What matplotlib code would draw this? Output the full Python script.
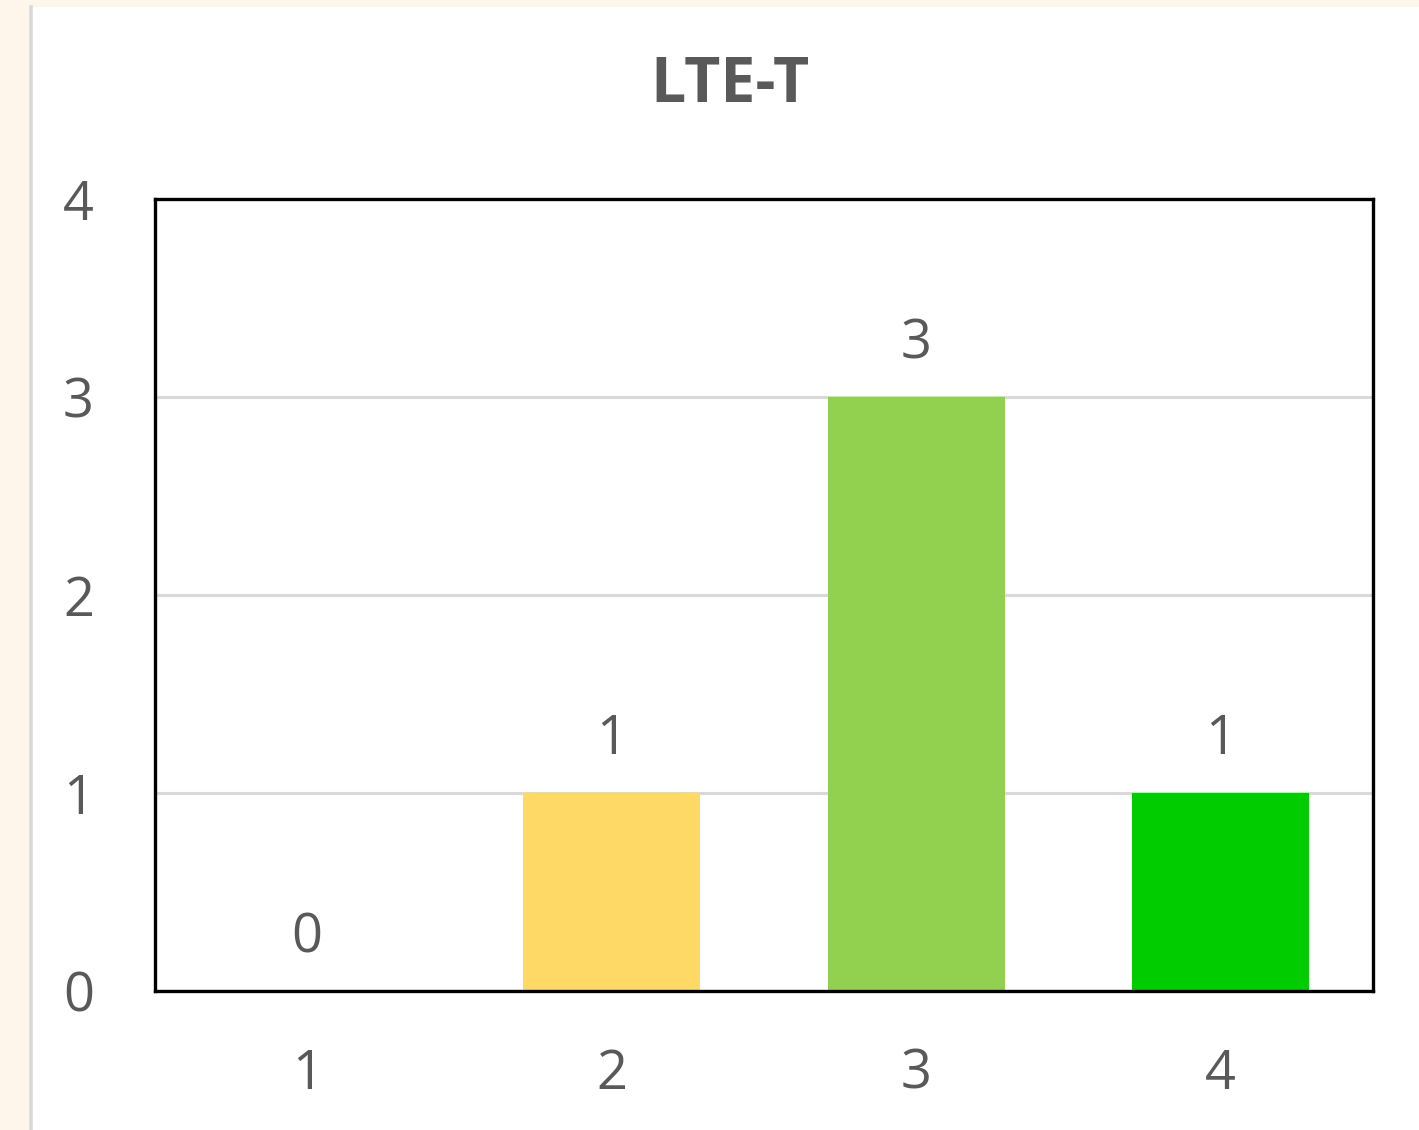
import matplotlib
matplotlib.use("Agg")
import matplotlib.pyplot as plt
from matplotlib.patches import Rectangle
from matplotlib.lines import Line2D
import numpy as np

# ── Data ───────────────────────────────────────────────────────────────────────

categories = ["1", "2", "3", "4"]
counts     = [0, 1, 3, 1]
bar_colors = ["#5B9BD5", "#FFD966", "#92D050", "#00CC00"]
y_ticks    = [0, 1, 2, 3, 4]

TITLE   = "LTE-T"
TEXT    = "#595959"
GRID    = "#d9d9d9"
CREAM   = "#fef6ea"
FONT    = ["Open Sans", "DejaVu Sans"]

# ── Figure ─────────────────────────────────────────────────────────────────────

fig = plt.figure(figsize=(14.19, 11.30), dpi=100)
fig.patch.set_facecolor("white")

# cream page margin + gray border like a pasted spreadsheet chart
fig.add_artist(Rectangle((0, 0), 29 / 1419, 1, transform=fig.transFigure,
                         facecolor=CREAM, edgecolor="none", zorder=0))
fig.add_artist(Rectangle((0, 1 - 7 / 1130), 1, 7 / 1130, transform=fig.transFigure,
                         facecolor=CREAM, edgecolor="none", zorder=0))
fig.add_artist(Line2D([30.5 / 1419, 30.5 / 1419], [0, 1 - 7 / 1130],
                      transform=fig.transFigure, color=GRID, linewidth=2.6))

ax = fig.add_axes([155 / 1419, 1 - 991 / 1130, (1373 - 155) / 1419, (991 - 199) / 1130])
ax.set_facecolor("white")

x = np.arange(len(categories))
bars = ax.bar(x, counts, width=0.58, color=bar_colors, zorder=2)

for bar, val in zip(bars, counts):
    ax.text(bar.get_x() + bar.get_width() / 2, val + 0.13, str(val),
            ha="center", va="bottom", fontsize=39, color=TEXT, family=FONT)

ax.set_xlim(-0.5, len(categories) - 0.5)
ax.set_ylim(0, 4)
ax.set_xticks(x)
ax.set_xticklabels(categories)
ax.set_yticks(y_ticks)

ax.tick_params(axis="both", length=0, labelsize=39, labelcolor=TEXT)
ax.tick_params(axis="x", pad=40)
ax.tick_params(axis="y", pad=44)
for lbl in ax.get_xticklabels() + ax.get_yticklabels():
    lbl.set_family(FONT)

ax.yaxis.grid(True, color=GRID, linewidth=2.2, zorder=1)
ax.set_axisbelow(True)

for spine in ax.spines.values():
    spine.set_color("black")
    spine.set_linewidth(2.4)

fig.text(730 / 1419, 1 - 86 / 1130, TITLE, ha="center", va="center",
         fontsize=45, fontweight="bold", color=TEXT, family=FONT)

fig.savefig("out.png", dpi=100, facecolor="white")
plt.close()
